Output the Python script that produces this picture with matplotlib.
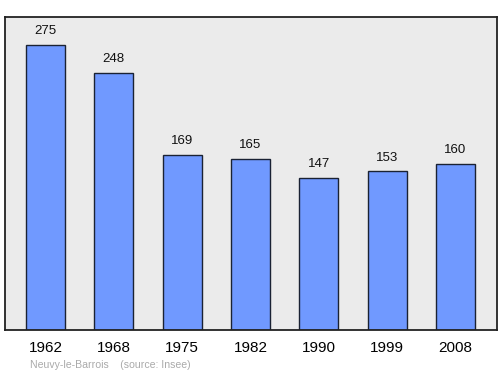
import matplotlib
matplotlib.use("Agg")
import matplotlib.pyplot as plt

plt.rcParams['font.family'] = ['Liberation Sans', 'DejaVu Sans']

years = ["1962", "1968", "1975", "1982", "1990", "1999", "2008"]
pop = [275, 248, 169, 165, 147, 153, 160]

fig = plt.figure(figsize=(5, 3.74), dpi=100)
ax = fig.add_axes([5/500, 1-330/374, 492/500, 313/374])
ax.set_facecolor("#ebebeb")

x = range(len(years))
ax.bar(x, pop, width=0.57, color="#7099ff", edgecolor="#1a2233", linewidth=1)
for i, v in zip(x, pop):
    ax.text(i, v + 7.5, str(v), ha="center", va="bottom", fontsize=9.5, color="#111111")

ax.set_xlim(-0.593, 6.607)
ax.set_ylim(0, 302)
ax.set_yticks([])
ax.set_xticks(list(x))
ax.set_xticklabels(years, fontsize=11)
ax.tick_params(axis="x", length=0, pad=8)
for s in ax.spines.values():
    s.set_linewidth(1.3)
    s.set_color("#222222")

fig.text(30/500, 1-365/374, "Neuvy-le-Barrois    (source: Insee)", fontsize=7.6,
         color="#aaaaaa", va="center")

fig.savefig("out.png", dpi=100)
